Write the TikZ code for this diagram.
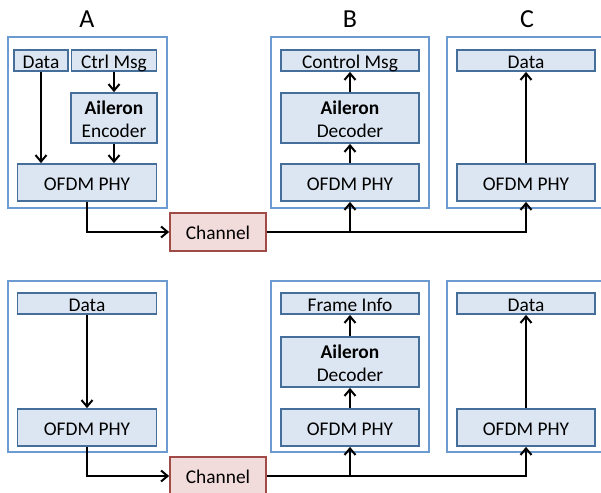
\documentclass[tikz,border=0pt]{standalone}
\usepackage{fontspec}
\setmainfont{Carlito}
\usetikzlibrary{arrows.meta}
\definecolor{outerblue}{RGB}{108,155,210}
\definecolor{innerfill}{RGB}{220,230,242}
\definecolor{innerline}{RGB}{70,110,155}
\definecolor{chanfill}{RGB}{242,220,219}
\definecolor{chanline}{RGB}{160,75,72}
\begin{document}
\begin{tikzpicture}[x=1pt,y=-1pt,
  outerbox/.style={draw=outerblue,line width=1.8pt},
  inbox/.style={draw=innerline,fill=innerfill,line width=1.8pt,inner sep=0pt,
    font=\fontsize{19.4}{23.4}\selectfont},
  oneline/.style={text height=15.5pt,text depth=0pt},
  twoline/.style={align=center,text height=39.4pt,text depth=0pt},
  chanbox/.style={draw=chanline,fill=chanfill,line width=1.8pt,inner sep=0pt,
    minimum width=96pt,minimum height=38pt,text height=15.5pt,text depth=0pt,
    font=\fontsize{19.4}{23.4}\selectfont},
  arr/.style={line width=2pt,-{Straight Barb[length=6.5pt,width=11pt,line width=2pt]}},
  lbl/.style={font=\fontsize{26}{30}\selectfont,inner sep=0pt}]
\useasboundingbox (0,0) rectangle (601,492);
\clip (0,0) rectangle (601,492);
% labels
\node[lbl] (labA) at (87,19) {A};
\node[lbl] (labB) at (350,19) {B};
\node[lbl] (labC) at (527,19) {C};
% ---------- top row ----------
\draw[outerbox] (8,37) rectangle (167,208);
\draw[outerbox] (271,37) rectangle (429,208);
\draw[outerbox] (447,37) rectangle (615,208);
\node[inbox,oneline,minimum width=54pt,minimum height=21pt] (dataA) at (41,60.5) {Data};
\node[inbox,oneline,minimum width=85pt,minimum height=21pt] (ctrlA) at (114,60.5) {Ctrl Msg};
\node[inbox,oneline,minimum width=86pt,minimum height=50pt,twoline] (encA) at (114,118) {\textbf{Aileron}\\Encoder};
\node[inbox,oneline,minimum width=139pt,minimum height=37pt] (phyA) at (87,182.5) {OFDM PHY};
\node[inbox,oneline,minimum width=138pt,minimum height=21pt] (ctrlB) at (350,60.5) {Control Msg};
\node[inbox,twoline,minimum width=138pt,minimum height=50pt] (decB) at (350,118) {\textbf{Aileron}\\Decoder};
\node[inbox,oneline,minimum width=138pt,minimum height=37pt] (phyB) at (350,182.5) {OFDM PHY};
\node[inbox,oneline,minimum width=138pt,minimum height=21pt] (dataC) at (526,60.5) {Data};
\node[inbox,oneline,minimum width=138pt,minimum height=37pt] (phyC) at (526,182.5) {OFDM PHY};
\node[chanbox] (chan1) at (218,232) {Channel};
\draw[arr] (dataA.south) -- (dataA.south |- phyA.north);
\draw[arr] (ctrlA.south) -- (encA.north);
\draw[arr] (encA.south) -- (encA.south |- phyA.north);
\draw[arr] (phyA.south) |- (chan1.west);
\draw[arr] (chan1.east) -| (phyC.south);
\draw[arr] (phyB.south |- chan1.east) -- (phyB.south);
\draw[arr] (phyB.north) -- (decB.south);
\draw[arr] (decB.north) -- (ctrlB.south);
\draw[arr] (phyC.north) -- (dataC.south);
% ---------- bottom row ----------
\draw[outerbox] (8,281) rectangle (167,452);
\draw[outerbox] (271,281) rectangle (429,452);
\draw[outerbox] (447,281) rectangle (615,452);
\node[inbox,oneline,minimum width=139pt,minimum height=21pt] (dataA2) at (87,303.5) {Data};
\node[inbox,oneline,minimum width=139pt,minimum height=37pt] (phyA2) at (87,427.5) {OFDM PHY};
\node[inbox,oneline,minimum width=138pt,minimum height=21pt] (frameB) at (350,303.5) {Frame Info};
\node[inbox,twoline,minimum width=138pt,minimum height=50pt] (decB2) at (350,362) {\textbf{Aileron}\\Decoder};
\node[inbox,oneline,minimum width=138pt,minimum height=37pt] (phyB2) at (350,427.5) {OFDM PHY};
\node[inbox,oneline,minimum width=138pt,minimum height=21pt] (dataC2) at (526,303.5) {Data};
\node[inbox,oneline,minimum width=138pt,minimum height=37pt] (phyC2) at (526,427.5) {OFDM PHY};
\node[chanbox] (chan2) at (218,476) {Channel};
\draw[arr] (dataA2.south) -- (phyA2.north);
\draw[arr] (phyA2.south) |- (chan2.west);
\draw[arr] (chan2.east) -| (phyC2.south);
\draw[arr] (phyB2.south |- chan2.east) -- (phyB2.south);
\draw[arr] (phyB2.north) -- (decB2.south);
\draw[arr] (decB2.north) -- (frameB.south);
\draw[arr] (phyC2.north) -- (dataC2.south);
\end{tikzpicture}
\end{document}
